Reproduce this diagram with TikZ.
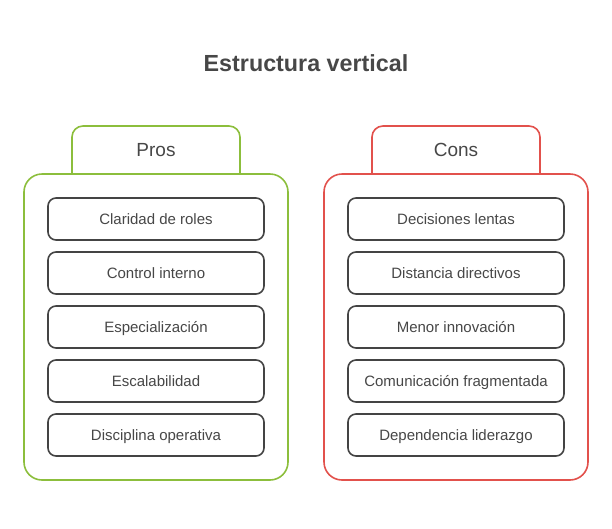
\documentclass[tikz,border=0pt]{standalone}
\usepackage{fontspec}
\setmainfont{Liberation Sans}
\usetikzlibrary{positioning}

\definecolor{prosgreen}{HTML}{8CBE3C}
\definecolor{consred}{HTML}{E2514C}
\definecolor{txtgray}{HTML}{474747}
\definecolor{boxgray}{HTML}{444444}

\tikzset{
    panel/.style={draw, line width=1.6pt, rounded corners=18pt, minimum width=264pt, minimum height=306pt},
    tabline/.style={line width=1.6pt, rounded corners=11pt},
    tabtext/.style={text=txtgray, font=\fontsize{19}{22}\selectfont, text height=13.6pt, text depth=0pt},
    item/.style={draw=boxgray, line width=1.6pt, rounded corners=8pt, fill=white,
        minimum width=216pt, minimum height=42pt, text=txtgray, font=\fontsize{15}{18}\selectfont,
        text height=12.7pt, text depth=2pt},
}

\begin{document}
\begin{tikzpicture}[x=1pt, y=-1pt]
    \useasboundingbox (0,0) rectangle (612,528);

    \node[text=txtgray, font=\bfseries\fontsize{23.3}{27}\selectfont] (title) at (306,63) {Estructura vertical};

    % Pros
    \draw[prosgreen, tabline] (72,174) -- (72,126) -- (240,126) -- (240,174);
    \node[tabtext] (prostab) at (156,150) {Pros};
    \node[panel, draw=prosgreen] (prospanel) at (156,327) {};

    % Cons
    \draw[consred, tabline] (372,174) -- (372,126) -- (540,126) -- (540,174);
    \node[tabtext] (constab) at (456,150) {Cons};
    \node[panel, draw=consred] (conspanel) at (456,327) {};

    \foreach \t [count=\i] in {Claridad de roles, Control interno, Especialización, Escalabilidad, Disciplina operativa}
        \node[item] (pro\i) at (156, 165+54*\i) {\t};

    \foreach \t [count=\i] in {Decisiones lentas, Distancia directivos, Menor innovación, Comunicación fragmentada, Dependencia liderazgo}
        \node[item] (con\i) at (456, 165+54*\i) {\t};
\end{tikzpicture}
\end{document}
